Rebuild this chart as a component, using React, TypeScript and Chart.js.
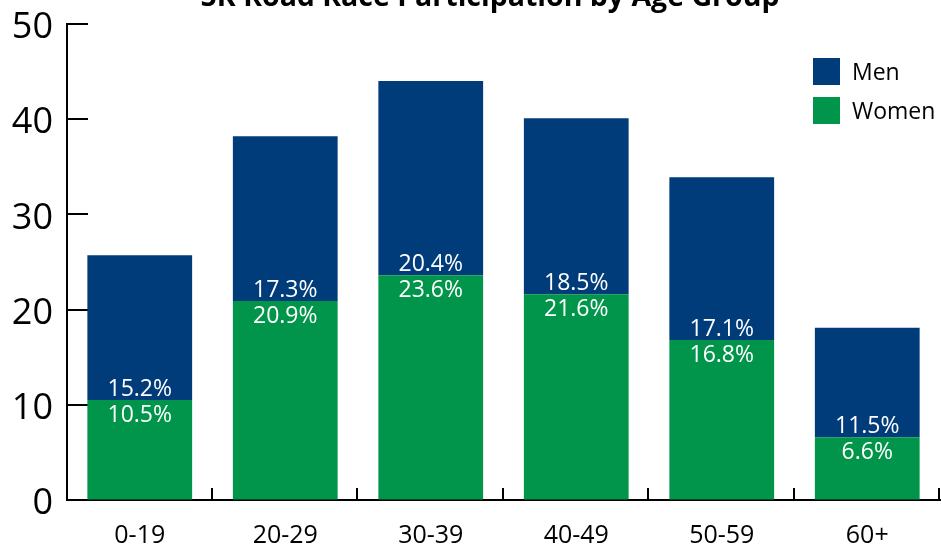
import React, { useEffect, useRef } from "react";
import { Chart, registerables } from "chart.js";

Chart.register(...registerables);

const TITLE = "5K Road Race Participation by Age Group";
const categories = ["0-19", "20-29", "30-39", "40-49", "50-59", "60+"];
const womenValues = [10.5, 20.9, 23.6, 21.6, 16.8, 6.6];
const menValues = [15.2, 17.3, 20.4, 18.5, 17.1, 11.5];
const yTicks = [0, 10, 20, 30, 40, 50];

const MEN_COLOR = "#003B7A";
const WOMEN_COLOR = "#00954A";
const FONT = "'Open Sans', 'DejaVu Sans', sans-serif";

const decorPlugin = {
  id: "decor",
  beforeDatasetsDraw(chart: any) {
    const { ctx, scales } = chart;
    const x = scales.x;
    const y = scales.y;
    const area = chart.chartArea;
    ctx.save();
    ctx.strokeStyle = "#000";
    ctx.lineWidth = 2;
    yTicks.forEach((v) => {
      const py = Math.round(y.getPixelForValue(v));
      ctx.beginPath();
      ctx.moveTo(area.left, py);
      ctx.lineTo(area.left + 21, py);
      ctx.stroke();
    });
    const half = (x.getPixelForValue(1) - x.getPixelForValue(0)) / 2;
    for (let i = 0; i < categories.length; i++) {
      const px = Math.round(x.getPixelForValue(i) + half) - 1;
      ctx.beginPath();
      ctx.moveTo(px, area.bottom);
      ctx.lineTo(px, area.bottom - 12);
      ctx.stroke();
    }
    ctx.restore();
  },
  afterDatasetsDraw(chart: any) {
    const { ctx } = chart;
    ctx.save();
    ctx.fillStyle = "#fff";
    ctx.textAlign = "center";
    ctx.textBaseline = "alphabetic";
    ctx.font = `23px ${FONT}`;
    chart.data.datasets.forEach((ds: any, di: number) => {
      const meta = chart.getDatasetMeta(di);
      meta.data.forEach((bar: any, i: number) => {
        const label = ds.data[i].toFixed(1) + "%";
        if (ds.label === "Women") {
          ctx.fillText(label, bar.x, bar.y + 22);
        } else {
          ctx.fillText(label, bar.x, bar.base - 4);
        }
      });
    });
    ctx.restore();
  },
  afterDraw(chart: any) {
    const { ctx } = chart;
    ctx.save();
    ctx.fillStyle = "#000";
    ctx.textAlign = "center";
    ctx.textBaseline = "alphabetic";
    ctx.font = `bold 28.5px ${FONT}`;
    ctx.fillText(TITLE, 490, 6);
    const items = [
      { label: chart.data.datasets[1].label, color: chart.data.datasets[1].backgroundColor },
      { label: chart.data.datasets[0].label, color: chart.data.datasets[0].backgroundColor },
    ];
    ctx.font = `23px ${FONT}`;
    ctx.textAlign = "left";
    items.forEach((it, k) => {
      const top = 58 + k * 39;
      ctx.fillStyle = it.color;
      ctx.fillRect(813, top, 27, 27);
      ctx.fillStyle = "#000";
      ctx.fillText(it.label, 852, top + 22);
    });
    ctx.restore();
  },
};

export default function App() {
  const canvasRef = useRef<HTMLCanvasElement | null>(null);

  useEffect(() => {
    if (!canvasRef.current) return;
    const chart = new Chart(canvasRef.current, {
      type: "bar",
      data: {
        labels: categories,
        datasets: [
          {
            label: "Women",
            data: womenValues,
            backgroundColor: WOMEN_COLOR,
            borderWidth: 0,
            barPercentage: 0.72,
            categoryPercentage: 1,
          },
          {
            label: "Men",
            data: menValues,
            backgroundColor: MEN_COLOR,
            borderWidth: 0,
            barPercentage: 0.72,
            categoryPercentage: 1,
          },
        ],
      },
      options: {
        responsive: false,
        animation: false,
        layout: { padding: { top: 24, right: 1, left: 0, bottom: 0 } },
        plugins: {
          legend: { display: false },
          title: { display: false },
          tooltip: { enabled: false },
        },
        scales: {
          x: {
            stacked: true,
            offset: true,
            grid: { display: true, drawOnChartArea: false, drawTicks: false },
            border: { display: true, color: "#000", width: 2 },
            ticks: {
              color: "#000",
              font: { family: FONT, size: 25 },
              padding: 21,
            },
            afterFit: (s: any) => {
              s.height = 44;
              s.paddingLeft = 0;
              s.paddingRight = 0;
            },
          },
          y: {
            stacked: true,
            min: 0,
            max: 50,
            grid: { display: true, drawOnChartArea: false, drawTicks: false },
            border: { display: true, color: "#000", width: 2 },
            ticks: {
              stepSize: 10,
              color: "#000",
              font: { family: FONT, size: 36 },
              padding: 14,
              labelOffset: 4,
            },
            afterFit: (s: any) => {
              s.width = 67;
              s.paddingTop = 0;
              s.paddingBottom = 0;
            },
          },
        },
      },
      plugins: [decorPlugin],
    });
    return () => chart.destroy();
  }, []);

  return (
    <div style={{ position: "fixed", left: 0, top: 0, width: 941, height: 544, background: "#fff" }}>
      <canvas ref={canvasRef} width={941} height={544} />
    </div>
  );
}
